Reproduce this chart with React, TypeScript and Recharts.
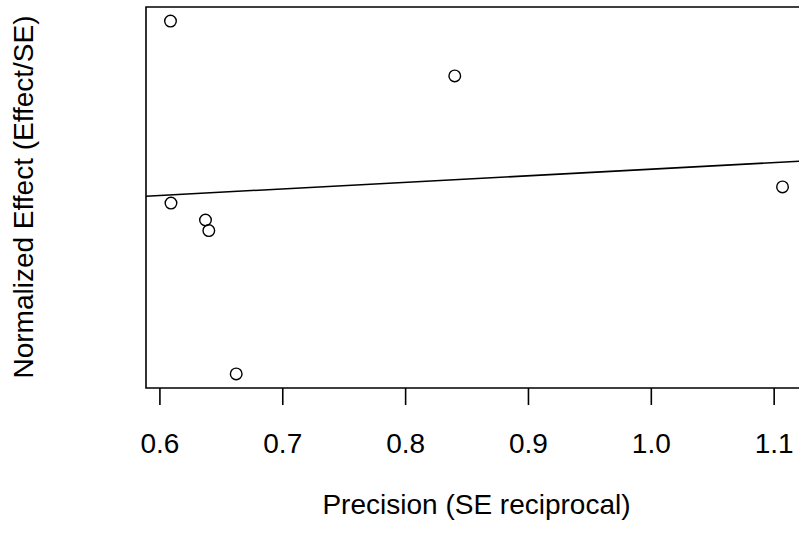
import React from "react";
import {
  ScatterChart,
  Scatter,
  XAxis,
  YAxis,
  ReferenceLine,
  ReferenceArea
} from "recharts";

// values
const precision = [0.6086, 0.609, 0.6371, 0.6398, 0.6621, 0.84, 1.1068];
const normEffect = [3.97, 1.38, 1.14, 0.99, -1.05, 3.19, 1.61];
const xTicks = [0.6, 0.7, 0.8, 0.9, 1.0, 1.1];

// fitted regression line (Effect/SE ~ 1/SE)
const fitIntercept = 0.928;
const fitSlope = 0.935;

const font = '"Liberation Sans", Arial, sans-serif';

const points = precision.map((x, i) => ({ x, y: normEffect[i] }));

// R-style 4% axis padding
const pad = (vals: number[]) => {
  const lo = Math.min(...vals);
  const hi = Math.max(...vals);
  const r = hi - lo;
  return [lo - 0.04 * r, hi + 0.04 * r];
};
const [xLo, xHi] = pad(precision);
const [yLo, yHi] = pad(normEffect);

const Circle = (p: any) => (
  <circle cx={p.cx} cy={p.cy} r={5.8} fill="none" stroke="#000" strokeWidth={1.4} />
);

export default () => {
  return (
    <div
      style={{
        position: "absolute",
        left: 0,
        top: 0,
        width: 799,
        height: 536,
        overflow: "hidden",
        background: "#fff",
        fontFamily: font
      }}
    >
      <ScatterChart
        width={830}
        height={536}
        margin={{ top: 7, right: 23, bottom: 0, left: 0 }}
      >
        <XAxis
          type="number"
          dataKey="x"
          domain={[xLo, xHi]}
          allowDataOverflow
          ticks={xTicks}
          interval={0}
          tickFormatter={(v: number) => v.toFixed(1)}
          axisLine={false}
          tickLine={{ stroke: "#000", strokeWidth: 1.6 }}
          tickSize={17}
          tickMargin={28}
          height={148}
          tick={{ fill: "#000", fontSize: 28, fontFamily: font }}
          label={{
            value: "Precision (SE reciprocal)",
            position: "insideBottom",
            offset: 22,
            fill: "#000",
            fontSize: 28,
            fontFamily: font
          }}
        />
        <YAxis
          type="number"
          dataKey="y"
          domain={[yLo, yHi]}
          allowDataOverflow
          width={146}
          tick={false}
          tickLine={false}
          axisLine={false}
          label={{
            content: () => (
              <text
                x={33}
                y={197}
                transform="rotate(-90 33 197)"
                textAnchor="middle"
                fill="#000"
                fontSize={28}
                fontFamily={font}
              >
                Normalized Effect (Effect/SE)
              </text>
            )
          }}
        />
        <ReferenceArea
          x1={xLo}
          x2={xHi}
          y1={yLo}
          y2={yHi}
          fill="none"
          fillOpacity={0}
          stroke="#000"
          strokeWidth={1.6}
          ifOverflow="visible"
        />
        <ReferenceLine
          segment={[
            { x: xLo, y: fitIntercept + fitSlope * xLo },
            { x: xHi, y: fitIntercept + fitSlope * xHi }
          ]}
          stroke="#000"
          strokeWidth={1.6}
        />
        <Scatter data={points} shape={Circle} isAnimationActive={false} />
      </ScatterChart>
    </div>
  );
};
